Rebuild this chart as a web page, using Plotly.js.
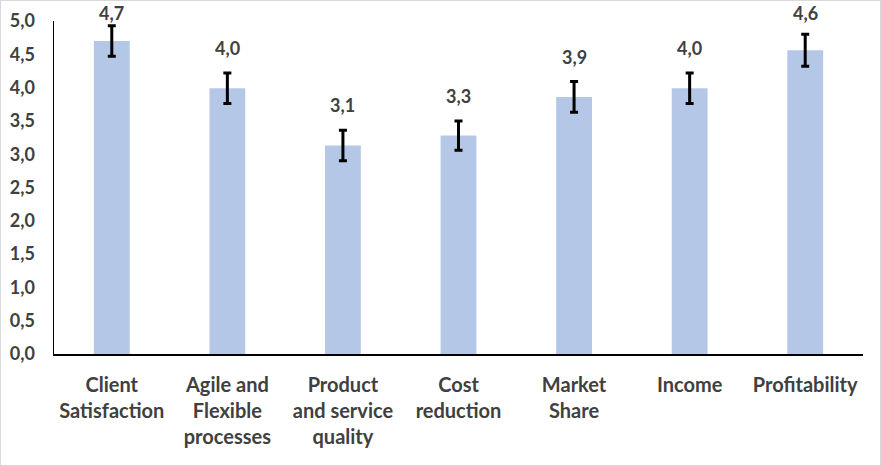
<!DOCTYPE html>
<html>
<head>
<meta charset="utf-8">
<script src="https://cdn.plot.ly/plotly-3.0.1.min.js"></script>
<style>
  body { margin: 0; background: #fff; }
  #chart { width: 879px; height: 464px; border: 1px solid #d9d9d9; }
</style>
</head>
<body>
<div id="chart"></div>
<script>
const categories = [
    'Client<br>Satisfaction',
    'Agile and<br>Flexible<br>processes',
    'Product<br>and service<br>quality',
    'Cost<br>reduction',
    'Market<br>Share',
    'Income',
    'Profitability'
];
const means = [4.70, 3.99, 3.13, 3.28, 3.86, 3.99, 4.56];
const errors = [0.23, 0.23, 0.23, 0.22, 0.23, 0.23, 0.24];

const textColor = '#404040';
const fontFamily = 'Lato, "Open Sans", sans-serif';

// value labels sit above the error bar, pushed down when they would leave the chart
const labels = categories.map((c, i) => ({
    x: c,
    y: Math.min(means[i] + errors[i], 4.75),
    yshift: 25,
    text: means[i].toFixed(1).replace('.', ','),
    showarrow: false,
    yanchor: 'middle',
    font: { family: fontFamily, size: 18, color: textColor, weight: 700 }
}));

Plotly.newPlot('chart', [{
    type: 'bar',
    x: categories,
    y: means,
    marker: { color: '#b4c7e7' },
    error_y: {
        type: 'data',
        array: errors,
        visible: true,
        color: '#000000',
        thickness: 3,
        width: 4
    },
    hoverinfo: 'none',
    cliponaxis: false
}], {
    width: 879,
    height: 464,
    margin: { l: 53, r: 17, t: 20, b: 111 },
    paper_bgcolor: '#ffffff',
    plot_bgcolor: '#ffffff',
    separators: ',.',
    bargap: 0.69,
    showlegend: false,
    font: { family: fontFamily, color: textColor },
    xaxis: {
        showline: true,
        linecolor: '#000000',
        linewidth: 1.5,
        ticks: '',
        ticklabelstandoff: 12,
        tickfont: { family: fontFamily, size: 20, color: textColor, weight: 700 },
        fixedrange: true
    },
    yaxis: {
        range: [0, 5],
        dtick: 0.5,
        tickformat: '.1f',
        showgrid: false,
        zeroline: false,
        showline: true,
        linecolor: '#000000',
        linewidth: 1.5,
        ticks: '',
        ticklabelstandoff: 14,
        tickfont: { family: fontFamily, size: 18, color: textColor, weight: 700 },
        fixedrange: true
    },
    annotations: labels
}, { displayModeBar: false, staticPlot: true });
</script>
</body>
</html>
